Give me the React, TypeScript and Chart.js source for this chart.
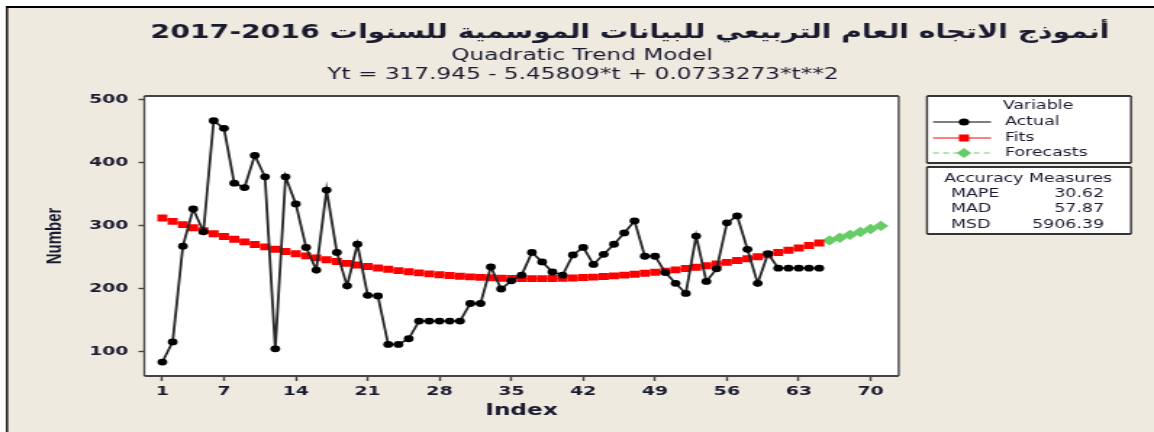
import React, { useEffect, useRef } from 'react';
import Chart from 'chart.js/auto';

// ---- data ----
const ACTUAL = [
  84, 116, 268, 327, 291, 467, 455, 368, 361, 412,
  378, 105, 378, 335, 266, 230, 357, 258, 205, 271,
  190, 189, 112, 112, 121, 149, 149, 149, 149, 149,
  177, 177, 235, 200, 213, 222, 258, 243, 227, 222,
  254, 266, 239, 255, 271, 289, 308, 252, 252, 226,
  209, 193, 284, 212, 232, 305, 316, 263, 209, 256,
  233, 233, 233, 233, 233,
];
const FITS = [
  312.6, 307.3, 302.2, 297.3, 292.5, 287.8, 283.3, 279.0, 274.8, 270.7,
  266.8, 263.0, 259.4, 255.9, 252.6, 249.4, 246.3, 243.5, 240.7, 238.1,
  235.7, 233.4, 231.2, 229.2, 227.3, 225.6, 224.0, 222.6, 221.3, 220.2,
  219.2, 218.4, 217.7, 217.1, 216.7, 216.5, 216.4, 216.4, 216.6, 216.9,
  217.4, 218.1, 218.8, 219.8, 220.8, 222.0, 223.4, 224.9, 226.6, 228.4,
  230.3, 232.4, 234.6, 237.0, 239.6, 242.2, 245.1, 248.0, 251.2, 254.4,
  257.9, 261.4, 265.1, 269.0, 273.0,
];
const FORECAST_START = 66;
const FORECASTS = [277.1, 281.4, 285.9, 290.4, 295.2, 300.1];
const X_TICKS = [1, 7, 14, 21, 28, 35, 42, 49, 56, 63, 70];
const Y_TICKS = [100, 200, 300, 400, 500];

const TITLE = '2017-2016 أنموذج الاتجاه العام التربيعي للبيانات الموسمية للسنوات';
const SUBTITLE = 'Quadratic Trend Model';
const EQUATION = 'Yt = 317.945 - 5.45809*t + 0.0733273*t**2';
const LEGEND_HEADER = 'Variable';
const LEGEND_LABELS = ['Actual', 'Fits', 'Forecasts'];
const ACC_HEADER = 'Accuracy Measures';
const ACC_NAMES = ['MAPE', 'MAD', 'MSD'];
const ACC_VALUES = ['30.62', '57.87', '5906.39'];

// ---- layout (canvas drawn narrower, stretched horizontally like the original) ----
const PAGE_W = 1154;
const CW = 796;
const CH = 432;
const SX = PAGE_W / CW;
const px = (x: number) => x / SX;

const BG = '#EEEAE0';
const TXT = '#1b1b30';
const RED = '#FF0000';
const GREEN = '#66CC66';
const FONT = '"DejaVu Sans", Tahoma, sans-serif';

const decorPlugin = {
  id: 'decor',
  beforeDraw(chart: any) {
    const { ctx, chartArea: a } = chart;
    ctx.save();
    ctx.fillStyle = '#ffffff';
    ctx.fillRect(0, 0, CW, CH);
    ctx.fillStyle = BG;
    ctx.fillRect(px(6), 6, CW, CH);
    ctx.strokeStyle = '#000';
    ctx.lineWidth = 2;
    ctx.beginPath();
    ctx.moveTo(px(6), 7);
    ctx.lineTo(CW, 7);
    ctx.stroke();
    ctx.lineWidth = 1.4;
    ctx.beginPath();
    ctx.moveTo(px(7), 6);
    ctx.lineTo(px(7), CH);
    ctx.stroke();
    ctx.fillStyle = '#ffffff';
    ctx.fillRect(a.left, a.top, a.right - a.left, a.bottom - a.top);
    ctx.restore();
  },
  afterDraw(chart: any) {
    const { ctx, chartArea: a } = chart;
    ctx.save();
    // plot frame
    ctx.strokeStyle = '#444';
    ctx.lineWidth = 2;
    ctx.beginPath();
    ctx.moveTo(a.left, a.top); ctx.lineTo(a.right, a.top);
    ctx.moveTo(a.left, a.bottom); ctx.lineTo(a.right, a.bottom);
    ctx.stroke();
    ctx.lineWidth = 1.4;
    ctx.beginPath();
    ctx.moveTo(a.left, a.top); ctx.lineTo(a.left, a.bottom);
    ctx.moveTo(a.right, a.top); ctx.lineTo(a.right, a.bottom);
    ctx.stroke();

    // titles
    ctx.fillStyle = TXT;
    ctx.textAlign = 'center';
    ctx.textBaseline = 'middle';
    ctx.font = `bold 19.5px ${FONT}`;
    ctx.fillText(TITLE, px(630), 33);
    ctx.font = `16px ${FONT}`;
    ctx.fillText(SUBTITLE, px(582), 56);
    ctx.fillText(EQUATION, px(583), 75);

    // legend boxes
    const L = px(927), R = px(1131);
    const boxes = [[96, 163], [167, 234]];
    for (const [t, b] of boxes) {
      ctx.fillStyle = '#fff';
      ctx.fillRect(L, t, R - L, b - t);
      ctx.strokeStyle = '#333';
      ctx.lineWidth = 2;
      ctx.beginPath();
      ctx.moveTo(L, t); ctx.lineTo(R, t);
      ctx.moveTo(L, b); ctx.lineTo(R, b);
      ctx.stroke();
      ctx.lineWidth = 1.4;
      ctx.beginPath();
      ctx.moveTo(L, t); ctx.lineTo(L, b);
      ctx.moveTo(R, t); ctx.lineTo(R, b);
      ctx.stroke();
    }
    ctx.fillStyle = TXT;
    ctx.font = `12px ${FONT}`;
    ctx.textAlign = 'center';
    ctx.fillText(LEGEND_HEADER, px(1038), 106);
    const rowsY = [122, 138, 153];
    const lx0 = px(933), lx1 = px(991), mx = px(964);
    // Actual
    ctx.strokeStyle = '#000'; ctx.lineWidth = 1.2; ctx.setLineDash([]);
    ctx.beginPath(); ctx.moveTo(lx0, rowsY[0]); ctx.lineTo(lx1, rowsY[0]); ctx.stroke();
    ctx.fillStyle = '#000';
    ctx.beginPath(); ctx.arc(mx, rowsY[0], 3.6, 0, Math.PI * 2); ctx.fill();
    // Fits
    ctx.strokeStyle = RED; ctx.lineWidth = 1;
    ctx.beginPath(); ctx.moveTo(lx0, rowsY[1]); ctx.lineTo(lx1, rowsY[1]); ctx.stroke();
    ctx.fillStyle = RED;
    ctx.fillRect(mx - 3.5, rowsY[1] - 3.5, 7, 7);
    // Forecasts
    ctx.strokeStyle = GREEN; ctx.setLineDash([4, 3]);
    ctx.beginPath(); ctx.moveTo(lx0, rowsY[2]); ctx.lineTo(lx1, rowsY[2]); ctx.stroke();
    ctx.setLineDash([]);
    ctx.fillStyle = GREEN;
    ctx.beginPath();
    ctx.moveTo(mx, rowsY[2] - 5); ctx.lineTo(mx + 5, rowsY[2]);
    ctx.lineTo(mx, rowsY[2] + 5); ctx.lineTo(mx - 5, rowsY[2]);
    ctx.closePath(); ctx.fill();

    ctx.fillStyle = TXT;
    ctx.textAlign = 'left';
    LEGEND_LABELS.forEach((s, i) => ctx.fillText(s, px(1005), rowsY[i]));

    ctx.textAlign = 'center';
    ctx.fillText(ACC_HEADER, px(1028), 179);
    const accY = [194, 209, 225];
    ACC_NAMES.forEach((s, i) => {
      ctx.textAlign = 'left';
      ctx.fillText(s, px(951), accY[i]);
      ctx.textAlign = 'right';
      ctx.fillText(ACC_VALUES[i], px(1104), accY[i]);
    });
    ctx.restore();
  },
};

export default function App() {
  const ref = useRef<HTMLCanvasElement>(null);
  useEffect(() => {
    const canvas = ref.current;
    if (!canvas) return;
    const chart = new Chart(canvas, {
      type: 'line',
      data: {
        datasets: [
          {
            label: LEGEND_LABELS[0],
            data: ACTUAL.map((y, i) => ({ x: i + 1, y })),
            borderColor: '#262626',
            borderWidth: 1.8,
            pointStyle: 'circle',
            pointRadius: 3.4,
            pointBackgroundColor: '#000',
            pointBorderColor: '#000',
            pointBorderWidth: 0,
            tension: 0,
          },
          {
            label: LEGEND_LABELS[1],
            data: FITS.map((y, i) => ({ x: i + 1, y })),
            borderColor: RED,
            borderWidth: 1,
            pointStyle: 'rect',
            pointRadius: 4.9,
            pointBackgroundColor: RED,
            pointBorderColor: RED,
            pointBorderWidth: 0,
            tension: 0,
          },
          {
            label: LEGEND_LABELS[2],
            data: FORECASTS.map((y, i) => ({ x: FORECAST_START + i, y })),
            borderColor: GREEN,
            borderWidth: 1,
            borderDash: [4, 3],
            pointStyle: 'rectRot',
            pointRadius: 5.2,
            pointBackgroundColor: GREEN,
            pointBorderColor: GREEN,
            pointBorderWidth: 0,
            tension: 0,
          },
        ],
      },
      options: {
        responsive: false,
        animation: false,
        devicePixelRatio: 1,
        events: [],
        layout: { padding: { left: 0, right: CW - px(898.7), top: 96, bottom: 6 } },
        plugins: {
          legend: { display: false },
          title: { display: false },
          tooltip: { enabled: false },
        },
        scales: {
          x: {
            type: 'linear',
            min: -0.76,
            max: 72.74,
            afterBuildTicks: (s: any) => { s.ticks = X_TICKS.map((v) => ({ value: v })); },
            afterFit: (s: any) => { s.height = 50; },
            grid: { display: true, drawOnChartArea: false, drawTicks: true, tickLength: 5, tickColor: '#444', tickWidth: 1.4 },
            border: { display: false },
            ticks: {
              autoSkip: false,
              maxRotation: 0,
              padding: 3,
              color: TXT,
              font: { family: FONT, size: 13, weight: 'bold' },
              callback: (v: any) => String(v),
            },
            title: {
              display: true,
              text: 'Index',
              color: TXT,
              font: { family: FONT, size: 16, weight: 'bold' },
              padding: { top: 0, bottom: 6 },
            },
          },
          y: {
            type: 'linear',
            min: 61.9,
            max: 506.3,
            afterBuildTicks: (s: any) => { s.ticks = Y_TICKS.map((v) => ({ value: v })); },
            afterFit: (s: any) => { s.width = px(144.3); },
            grid: { display: true, drawOnChartArea: false, drawTicks: true, tickLength: 4, tickColor: '#444', tickWidth: 1.4 },
            border: { display: false },
            ticks: {
              padding: 7,
              color: TXT,
              font: { family: FONT, size: 13, weight: 'bold' },
              callback: (v: any) => String(v),
            },
            title: {
              display: true,
              text: 'Number',
              color: TXT,
              font: { family: '"Liberation Sans", Arial, sans-serif', size: 15, weight: 'bold' },
              padding: { top: 29, bottom: 0 },
            },
          },
        },
      },
      plugins: [decorPlugin],
    } as any);
    return () => chart.destroy();
  }, []);

  return (
    <div style={{ position: 'fixed', left: 0, top: 0, width: PAGE_W, height: CH, overflow: 'hidden', background: '#fff' }}>
      <canvas
        ref={ref}
        width={CW}
        height={CH}
        style={{ display: 'block', width: `${PAGE_W}px`, height: `${CH}px` }}
      />
    </div>
  );
}
